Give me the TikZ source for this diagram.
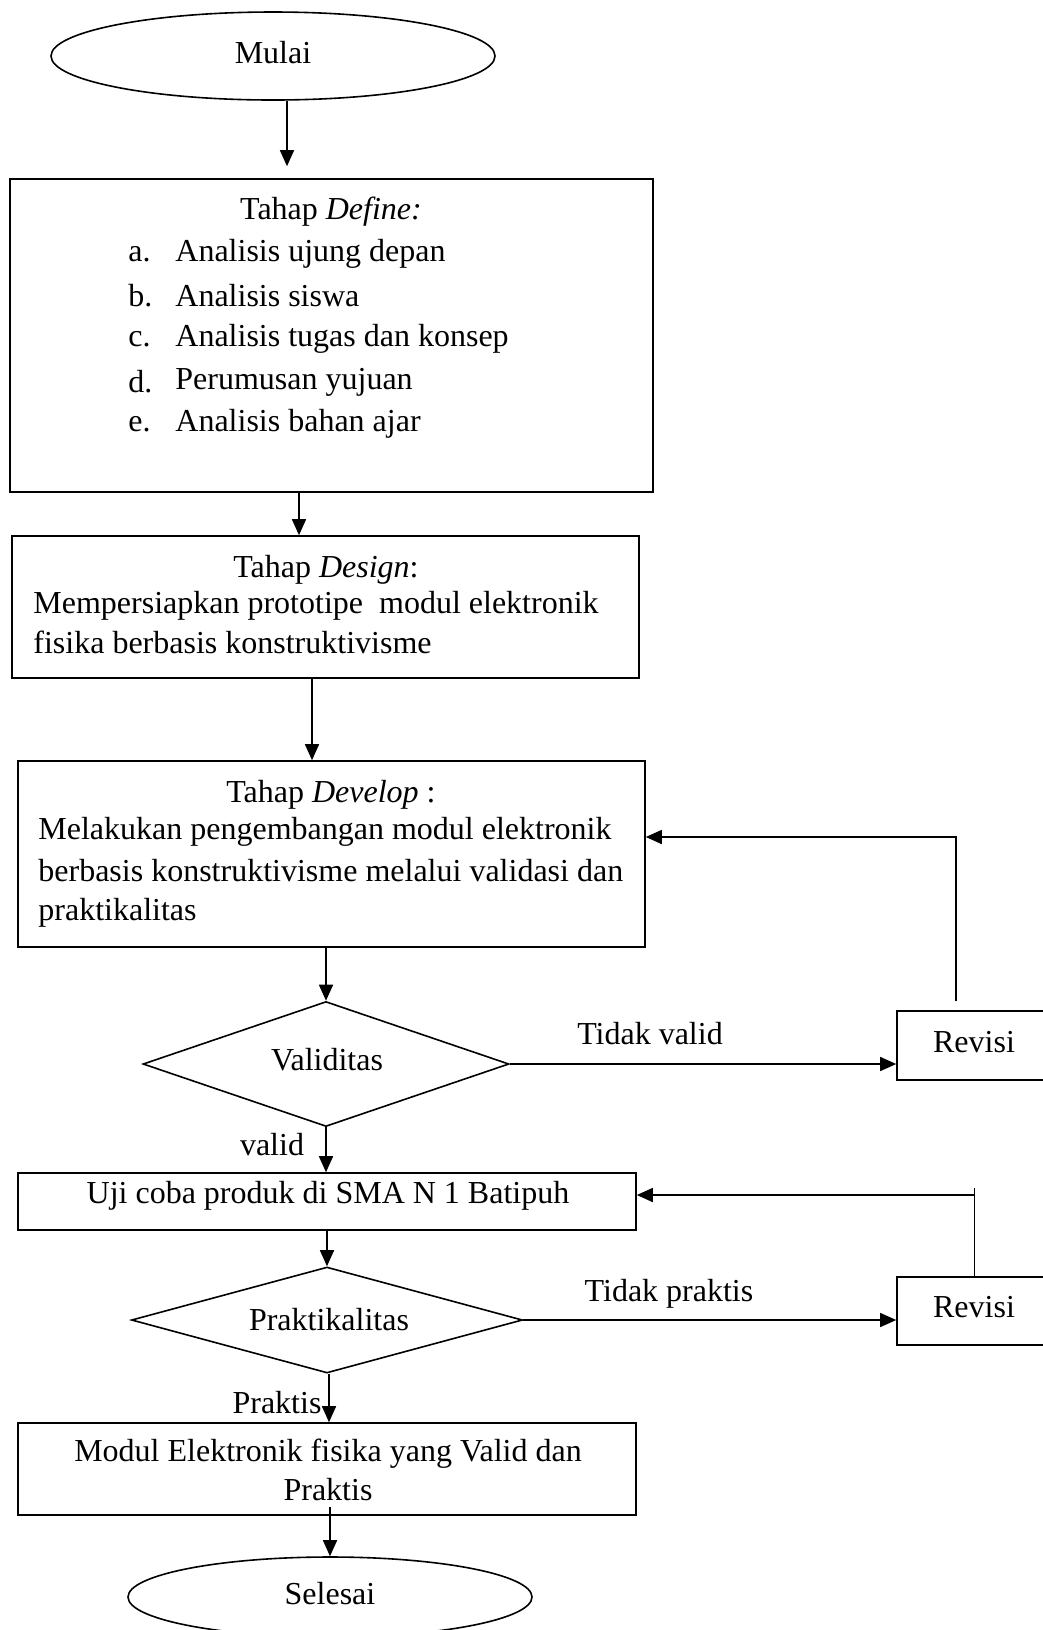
\documentclass[tikz,border=0pt]{standalone}
\usepackage{fontspec}
\setmainfont{Liberation Serif}
\usetikzlibrary{shapes.geometric,arrows.meta}
\begin{document}
\begin{tikzpicture}[x=0.5pt,y=-0.5pt,
  txt/.style={font=\fontsize{16}{21}\selectfont, inner sep=0pt},
  box/.style={draw, line width=0.8pt, rectangle, inner sep=0pt},
  term/.style={draw, line width=0.8pt, ellipse, inner sep=0pt},
  decision/.style={draw, line width=0.8pt, diamond, inner sep=0pt},
  conn/.style={line width=0.8pt},
  arr/.style={line width=0.8pt, -{Triangle[length=8pt,width=7pt]}}]
\useasboundingbox (0,0) rectangle (1043,1630);

% shapes
\node[term, minimum width=222pt, minimum height=44pt] (mulai) at (273,56) {};
\node[box, minimum width=321.5pt, minimum height=156.5pt] (define) at (331.5,335.5) {};
\node[box, minimum width=313.5pt, minimum height=71pt] (design) at (325.5,607) {};
\node[box, minimum width=313.5pt, minimum height=93pt] (develop) at (331.5,854) {};
\node[decision, aspect=2.93, minimum width=183pt, minimum height=62.5pt] (valid) at (326,1064) {};
\node[box, minimum width=77.5pt, minimum height=34.5pt] (revisi1) at (974.5,1045.5) {};
\node[box, minimum width=309pt, minimum height=28.5pt] (uji) at (327,1201.5) {};
\node[decision, aspect=3.69, minimum width=195.5pt, minimum height=53pt] (prak) at (327,1320) {};
\node[box, minimum width=77.5pt, minimum height=34pt] (revisi2) at (974.5,1311) {};
\node[box, minimum width=309pt, minimum height=46pt] (modul) at (327,1469) {};
\node[term, minimum width=202pt, minimum height=40pt] (selesai) at (330,1597) {};

% texts in shapes
\node[txt] (mulait) at (273,53) {Mulai};
\node[txt] (validt) at (327,1060) {Validitas};
\node[txt] (rev1t) at (974,1042) {Revisi};
\node[txt] (ujit) at (328,1196) {Uji coba produk di SMA N 1 Batipuh};
\node[txt] (prakt) at (329,1320) {Praktikalitas};
\node[txt] (rev2t) at (974,1307) {Revisi};
\node[txt] (selesait) at (330,1594) {Selesai};

% texts in Define
\node[txt] (deft) at (331,212) {Tahap \textit{Define:}};
\node[txt, anchor=west] (la) at (128,254) {a.};
\node[txt, anchor=west] (lb) at (128,296) {b.};
\node[txt, anchor=west] (lc) at (128,339) {c.};
\node[txt, anchor=west] (ld) at (128,382) {d.};
\node[txt, anchor=west] (le) at (128,424) {e.};
\node[txt, anchor=west] (ia) at (175,254) {Analisis ujung depan};
\node[txt, anchor=west] (ib) at (175,296) {Analisis siswa};
\node[txt, anchor=west] (ic) at (175,339) {Analisis tugas dan konsep};
\node[txt, anchor=west] (id) at (175,382) {Perumusan yujuan};
\node[txt, anchor=west] (ie) at (175,424) {Analisis bahan ajar};

% texts in Design
\node[txt] (dest) at (326,570) {Tahap \textit{Design}:};
\node[txt, anchor=west] (des1) at (33,606) {Mempersiapkan prototipe\ \ modul elektronik};
\node[txt, anchor=west] (des2) at (33,642) {fisika berbasis konstruktivisme};

% texts in Develop
\node[txt] (devt) at (331,795) {Tahap \textit{Develop} :};
\node[txt, anchor=west] (dev1) at (38,832) {Melakukan pengembangan modul elektronik};
\node[txt, anchor=west] (dev2) at (38,871) {berbasis konstruktivisme melalui validasi dan};
\node[txt, anchor=west] (dev3) at (38,913) {praktikalitas};

% texts in Modul
\node[txt] (mod1) at (328,1454) {Modul Elektronik fisika yang Valid dan};
\node[txt] (mod2) at (328,1490) {Praktis};

% labels
\node[txt] (ltv) at (650,1034) {Tidak valid};
\node[txt] (lv) at (272,1145) {valid};
\node[txt] (ltp) at (669,1294) {Tidak praktis};
\node[txt] (lp) at (277,1403) {Praktis};

% connectors
\draw[arr, shorten >=6pt] ([xshift=7pt]mulai.south) -- ([xshift=-22.25pt]define.north);
\draw[arr] ([xshift=-16.25pt]define.south) -- ([xshift=-13.25pt]design.north);
\draw[arr] ([xshift=-6.75pt]design.south) -- ([xshift=-9.75pt]develop.north);
\draw[arr] (valid.north |- develop.south) -- (valid.north);
\draw[arr] (valid.east) -- (valid.east -| revisi1.west);
\draw[arr] ([xshift=-9.25pt,yshift=4.5pt]revisi1.north) |- ([yshift=8.5pt]develop.east);
\draw[arr] (valid.south) -- (valid.south |- uji.north);
\draw[arr] (prak.north |- uji.south) -- (prak.north);
\draw[arr] (prak.east) -- (prak.east -| revisi2.west);
\draw[conn] (revisi2.north) -- ++(0,-88);
\coordinate (t2) at (974.5,1195);
\draw[arr] (t2) -- (t2 -| uji.east);
\draw[arr] ([xshift=1pt]prak.south) -- ([xshift=1pt]prak.south |- modul.north);
\draw[arr] ([yshift=4.5pt]selesai.north |- modul.south) -- (selesai.north);
\end{tikzpicture}
\end{document}
